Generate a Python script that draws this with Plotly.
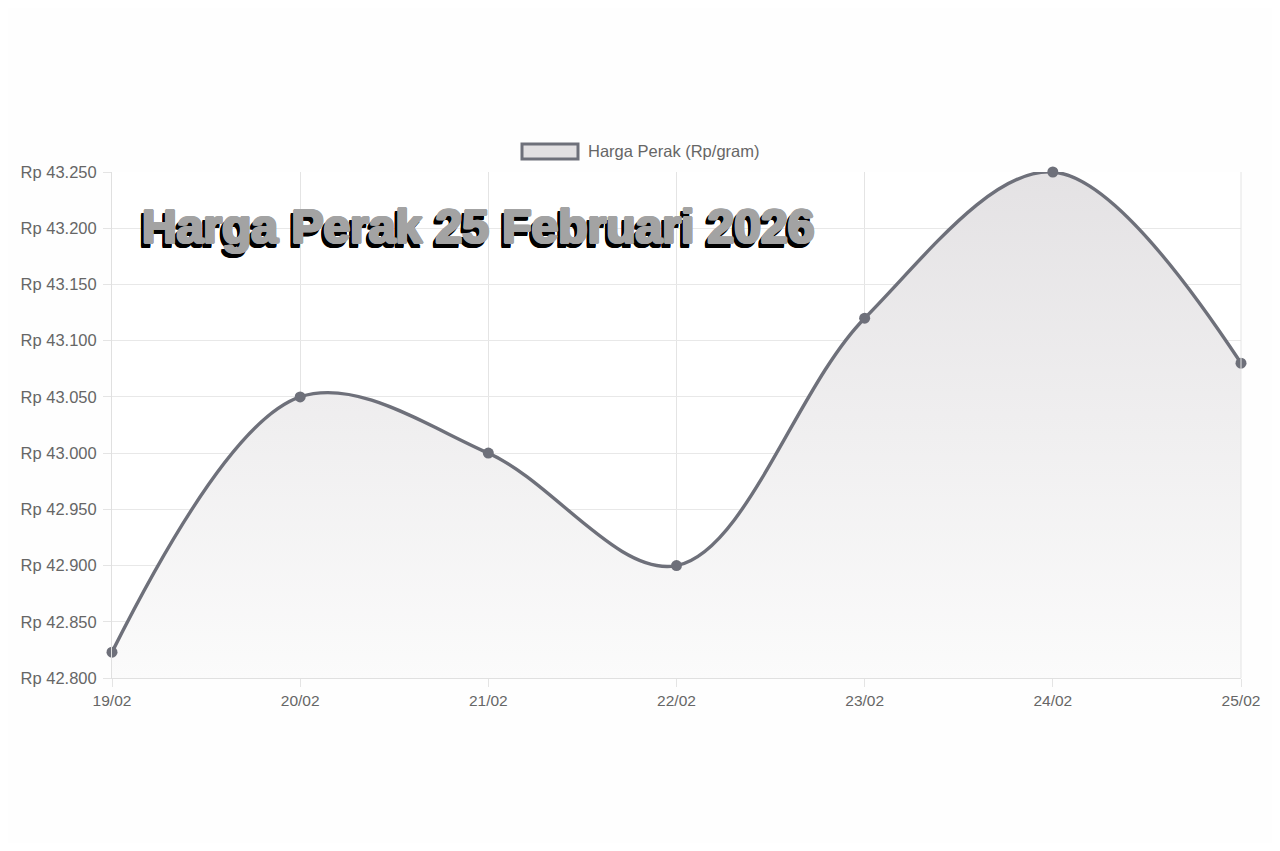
import plotly.graph_objects as go

dates = ["19/02", "20/02", "21/02", "22/02", "23/02", "24/02", "25/02"]
prices = [42823, 43050, 43000, 42900, 43120, 43250, 43080]
y_ticks = [42800, 42850, 42900, 42950, 43000, 43050, 43100, 43150, 43200, 43250]
y_labels = ["Rp " + f"{v:,}".replace(",", ".") for v in y_ticks]
series_name = "Harga Perak (Rp/gram)"
title_text = "Harga Perak 25 Februari 2026"

line_col = "rgb(110,112,122)"

# page body has an 8px margin; figure sized to fit
W, H = 1264, 835
L, R, T, B = 104, 31, 164, 165
PW = W - L - R
PH = H - T - B


def px(xabs):
    return (xabs - 8 - L) / PW


def py(yabs):
    return (H - B + 8 - yabs) / PH


fig = go.Figure()
fig.add_trace(go.Scatter(
    x=dates, y=prices, name=series_name,
    mode="lines+markers",
    line=dict(color=line_col, width=3.4, shape="spline", smoothing=1.0),
    marker=dict(color=line_col, size=11),
    fill="tozeroy",
    fillgradient=dict(type="vertical", start=42800, stop=43250,
                      colorscale=[[0, "rgba(251,251,251,1)"], [1, "rgba(228,226,228,1)"]]),
    cliponaxis=False,
    showlegend=False,
))

fig.update_layout(
    width=W, height=H, autosize=False,
    margin=dict(l=L, r=R, t=T, b=B),
    paper_bgcolor="#fefefe", plot_bgcolor="#ffffff",
    font=dict(family="Liberation Sans, Arial, sans-serif", size=15, color="#666666"),
    xaxis=dict(type="category", range=[0, 6], showgrid=True, gridcolor="#e4e4e4", gridwidth=1,
               ticks="outside", ticklen=8, tickcolor="#e4e4e4", showline=True, linecolor="#e0e0e0",
               tickfont=dict(size=15.5, color="#666666"), zeroline=False),
    yaxis=dict(range=[42800, 43250], tickvals=y_ticks, ticktext=y_labels,
               showgrid=True, gridcolor="#e8e8e8", gridwidth=1,
               ticks="outside", ticklen=8, tickcolor="#e4e4e4", showline=True, linecolor="#e0e0e0",
               ticklabelstandoff=3,
               tickfont=dict(size=16.5, color="#666666"), zeroline=False),
    showlegend=False,
)

# right border line of plot area
fig.add_shape(type="line", xref="paper", yref="paper", x0=1, x1=1, y0=0, y1=1,
              line=dict(color="#e4e4e4", width=1))

# legend swatch drawn manually
fig.add_shape(type="rect", xref="paper", yref="paper",
              x0=px(522), x1=px(578), y0=py(159), y1=py(144),
              line=dict(color=line_col, width=3), fillcolor="rgb(226,224,226)")
fig.add_annotation(xref="paper", yref="paper", x=px(586), y=py(151.5),
                   text=series_name, showarrow=False, xanchor="left", yanchor="middle",
                   font=dict(size=16.5, color="#666666"))

# title overlay with thickened gray glyphs and black drop shadow
g = "#a3a3a3"
shadow = ", ".join(
    [f"{dx}px {dy}px 0px {g}" for dx, dy in [(1, 0), (-1, 0), (0, 1), (0, -1), (1, 1), (-1, -1), (1, -1), (-1, 1),
                                             (1.5, 0), (-1.5, 0)]]
    + [f"{dx}px {dy}px 0px #000000" for dx, dy in [(-3, 4), (-4, 4), (-3, 5), (-2, 4), (-4, 3), (-2, 5),
                                                  (-4, 5), (-2, 3)]]
)
fig.add_annotation(xref="paper", yref="paper", x=px(140), y=py(226),
                   text="<b>" + title_text + "</b>", showarrow=False, xanchor="left", yanchor="middle",
                   font=dict(family="Liberation Sans, Arial", size=48, color=g,
                             weight=900, shadow=shadow))

fig.write_html("out.html")
